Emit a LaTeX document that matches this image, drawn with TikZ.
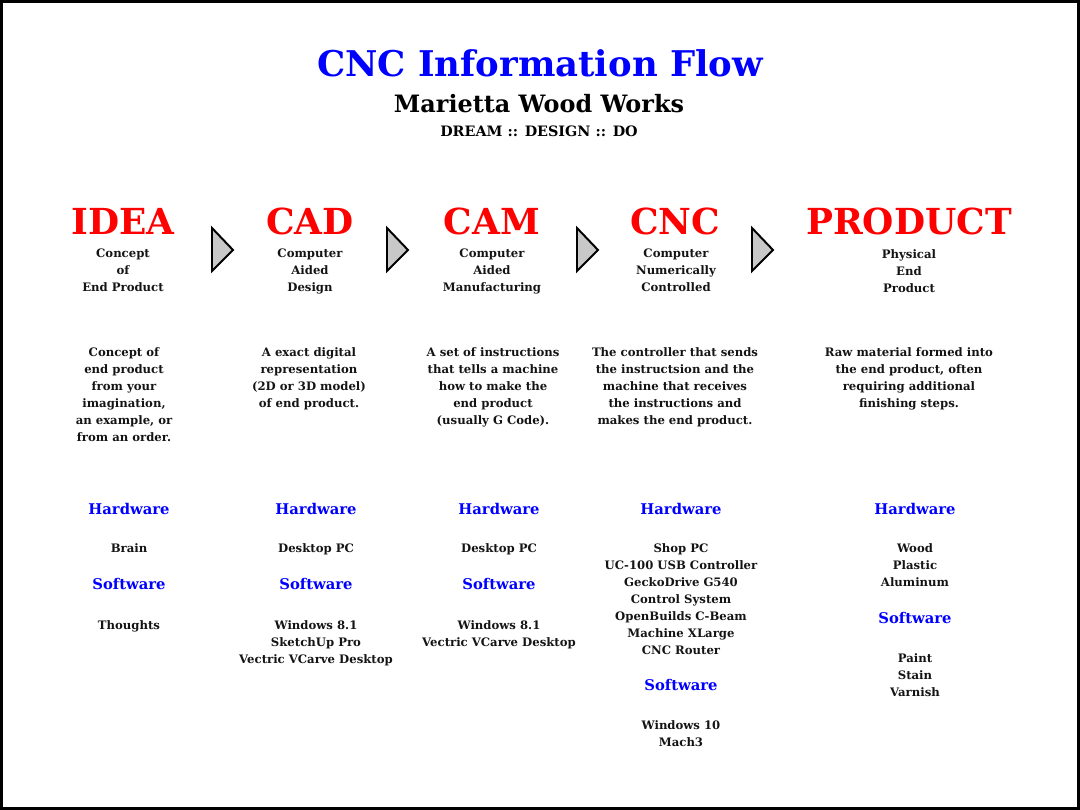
\documentclass[tikz,border=0pt]{standalone}
\usepackage{fontspec}
\setmainfont{DejaVu Serif}
\usepackage{tikz}
\usetikzlibrary{positioning}
\definecolor{FlowBlue}{RGB}{0, 0, 255}
\definecolor{StageRed}{RGB}{255, 0, 0}
\definecolor{ArrowFill}{RGB}{200, 200, 200}
\definecolor{Ink}{RGB}{20, 20, 20}
\tikzset{
  title/.style={font=\fontsize{25.2}{30}\selectfont\bfseries, text=FlowBlue, inner sep=0pt},
  shop/.style={font=\fontsize{17}{20}\selectfont\bfseries, text=black, inner sep=0pt},
  motto/.style={font=\fontsize{10.2}{12}\selectfont\bfseries, text=black, inner sep=0pt},
  stage/.style={font=\fontsize{25.5}{28}\selectfont\bfseries, text=StageRed, inner sep=0pt},
  blurb/.style={font=\fontsize{8.3}{12.1}\selectfont\bfseries, text=Ink, align=center, anchor=north, inner sep=0pt},
  group/.style={font=\fontsize{10.5}{12}\selectfont\bfseries, text=FlowBlue, inner sep=0pt},
  flowarrow/.style={fill=ArrowFill, draw=black, line width=1.4pt, line join=miter}
}
\begin{document}
\begin{tikzpicture}[x=0.025cm, y=-0.025cm]
% frame
\fill[black] (0,0) rectangle (1080,810);
\fill[white] (3,3) rectangle (1077,807);
% header
\node[title] (head) at (540,63) {CNC Information Flow};
\node[shop] (shop) at (539,104) {Marietta Wood Works};
\node[motto] (motto) at (539,131) {DREAM :: DESIGN :: DO};
% stages
\node[stage] (idea) at (123,221) {IDEA};
\node[stage] (cad) at (310,221) {CAD};
\node[stage] (cam) at (492,221) {CAM};
\node[stage] (cnc) at (675,221) {CNC};
\node[stage] (product) at (909,221) {PRODUCT};
\node[blurb] (idea-sub) at (123,249) {Concept\\of\\End Product};
\node[blurb] (cad-sub) at (310,249) {Computer\\Aided\\Design};
\node[blurb] (cam-sub) at (492,249) {Computer\\Aided\\Manufacturing};
\node[blurb] (cnc-sub) at (676,249) {Computer\\Numerically\\Controlled};
\node[blurb] (product-sub) at (909,249) {Physical\\End\\Product};
% arrows between stages
\draw[flowarrow] (212,228) -- (212,271) -- (233,250) -- cycle;
\draw[flowarrow] (387,228) -- (387,271) -- (408,250) -- cycle;
\draw[flowarrow] (577,228) -- (577,271) -- (598,250) -- cycle;
\draw[flowarrow] (752,228) -- (752,271) -- (773,250) -- cycle;
% descriptions
\node[blurb] (idea-text) at (124,347) {Concept of\\end product\\from your\\imagination,\\an example, or\\from an order.};
\node[blurb] (cad-text) at (309,347) {A exact digital\\representation\\(2D or 3D model)\\of end product.};
\node[blurb] (cam-text) at (493,347) {A set of instructions\\that tells a machine\\how to make the\\end product\\(usually G Code).};
\node[blurb] (cnc-text) at (675,347) {The controller that sends\\the instructsion and the\\machine that receives\\the instructions and\\makes the end product.};
\node[blurb] (product-text) at (909,347) {Raw material formed into\\the end product, often\\requiring additional\\finishing steps.};
% hardware
\node[group] (idea-hw) at (129,509) {Hardware};
\node[group] (cad-hw) at (316,509) {Hardware};
\node[group] (cam-hw) at (499,509) {Hardware};
\node[group] (cnc-hw) at (681,509) {Hardware};
\node[group] (product-hw) at (915,509) {Hardware};
\node[blurb] (idea-hw-list) at (129,543) {Brain};
\node[blurb] (cad-hw-list) at (316,543) {Desktop PC};
\node[blurb] (cam-hw-list) at (499,543) {Desktop PC};
\node[blurb] (cnc-hw-list) at (681,543) {Shop PC\\UC-100 USB Controller\\GeckoDrive G540\\Control System\\OpenBuilds C-Beam\\Machine XLarge\\CNC Router};
\node[blurb] (product-hw-list) at (915,543) {Wood\\Plastic\\Aluminum};
% software
\node[group] (idea-sw) at (129,584) {Software};
\node[group] (cad-sw) at (316,584) {Software};
\node[group] (cam-sw) at (499,584) {Software};
\node[group] (cnc-sw) at (681,685) {Software};
\node[group] (product-sw) at (915,618) {Software};
\node[blurb] (idea-sw-list) at (129,620) {Thoughts};
\node[blurb] (cad-sw-list) at (316,620) {Windows 8.1\\SketchUp Pro\\Vectric VCarve Desktop};
\node[blurb] (cam-sw-list) at (499,620) {Windows 8.1\\Vectric VCarve Desktop};
\node[blurb] (cnc-sw-list) at (681,720) {Windows 10\\Mach3};
\node[blurb] (product-sw-list) at (915,653) {Paint\\Stain\\Varnish};
\end{tikzpicture}
\end{document}
